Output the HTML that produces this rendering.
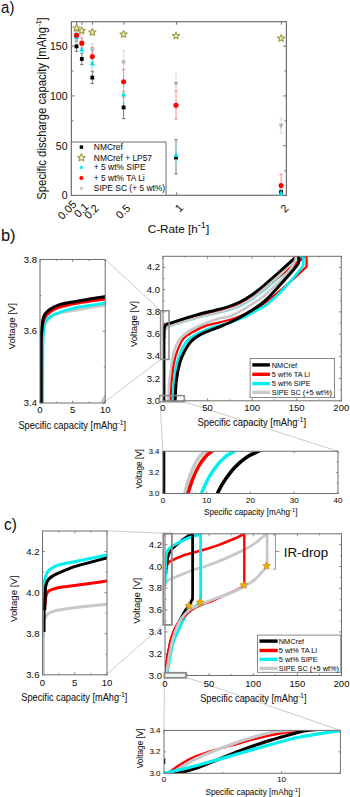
<!DOCTYPE html>
<html><head><meta charset="utf-8"><style>
html,body{margin:0;padding:0;background:#fff;width:350px;height:797px;overflow:hidden}
svg{display:block}
text{stroke:#111;stroke-width:0.06px;paint-order:stroke}
</style></head><body>
<svg width="350" height="797" viewBox="0 0 350 797">
<rect width="350" height="797" fill="#fff"/>
<text x="1.1" y="13.3" font-size="16.4" text-anchor="start" fill="#111" font-family='"Liberation Sans", sans-serif' textLength="13.3" lengthAdjust="spacingAndGlyphs" >a)</text>
<line x1="71.4" y1="195.6" x2="74.60000000000001" y2="195.6" stroke="#6e6e6e" stroke-width="1" />
<line x1="286.4" y1="195.6" x2="283.2" y2="195.6" stroke="#6e6e6e" stroke-width="1" />
<text x="67.5" y="199.4" font-size="10.5" text-anchor="end" fill="#111" font-family='"Liberation Sans", sans-serif' >0</text>
<line x1="71.4" y1="145.765" x2="74.60000000000001" y2="145.765" stroke="#6e6e6e" stroke-width="1" />
<line x1="286.4" y1="145.765" x2="283.2" y2="145.765" stroke="#6e6e6e" stroke-width="1" />
<text x="67.5" y="149.565" font-size="10.5" text-anchor="end" fill="#111" font-family='"Liberation Sans", sans-serif' >50</text>
<line x1="71.4" y1="95.92999999999999" x2="74.60000000000001" y2="95.92999999999999" stroke="#6e6e6e" stroke-width="1" />
<line x1="286.4" y1="95.92999999999999" x2="283.2" y2="95.92999999999999" stroke="#6e6e6e" stroke-width="1" />
<text x="67.5" y="99.72999999999999" font-size="10.5" text-anchor="end" fill="#111" font-family='"Liberation Sans", sans-serif' >100</text>
<line x1="71.4" y1="46.095" x2="74.60000000000001" y2="46.095" stroke="#6e6e6e" stroke-width="1" />
<line x1="286.4" y1="46.095" x2="283.2" y2="46.095" stroke="#6e6e6e" stroke-width="1" />
<text x="67.5" y="49.894999999999996" font-size="10.5" text-anchor="end" fill="#111" font-family='"Liberation Sans", sans-serif' >150</text>
<line x1="71.4" y1="170.6825" x2="73.4" y2="170.6825" stroke="#6e6e6e" stroke-width="1" />
<line x1="286.4" y1="170.6825" x2="284.4" y2="170.6825" stroke="#6e6e6e" stroke-width="1" />
<line x1="71.4" y1="120.8475" x2="73.4" y2="120.8475" stroke="#6e6e6e" stroke-width="1" />
<line x1="286.4" y1="120.8475" x2="284.4" y2="120.8475" stroke="#6e6e6e" stroke-width="1" />
<line x1="71.4" y1="71.01249999999999" x2="73.4" y2="71.01249999999999" stroke="#6e6e6e" stroke-width="1" />
<line x1="286.4" y1="71.01249999999999" x2="284.4" y2="71.01249999999999" stroke="#6e6e6e" stroke-width="1" />
<line x1="76.65" y1="21.7" x2="76.65" y2="24.7" stroke="#6e6e6e" stroke-width="1" />
<line x1="76.65" y1="195.3" x2="76.65" y2="192.3" stroke="#6e6e6e" stroke-width="1" />
<line x1="81.9" y1="21.7" x2="81.9" y2="24.7" stroke="#6e6e6e" stroke-width="1" />
<line x1="81.9" y1="195.3" x2="81.9" y2="192.3" stroke="#6e6e6e" stroke-width="1" />
<line x1="92.4" y1="21.7" x2="92.4" y2="24.7" stroke="#6e6e6e" stroke-width="1" />
<line x1="92.4" y1="195.3" x2="92.4" y2="192.3" stroke="#6e6e6e" stroke-width="1" />
<line x1="123.9" y1="21.7" x2="123.9" y2="24.7" stroke="#6e6e6e" stroke-width="1" />
<line x1="123.9" y1="195.3" x2="123.9" y2="192.3" stroke="#6e6e6e" stroke-width="1" />
<line x1="176.4" y1="21.7" x2="176.4" y2="24.7" stroke="#6e6e6e" stroke-width="1" />
<line x1="176.4" y1="195.3" x2="176.4" y2="192.3" stroke="#6e6e6e" stroke-width="1" />
<line x1="281.4" y1="21.7" x2="281.4" y2="24.7" stroke="#6e6e6e" stroke-width="1" />
<line x1="281.4" y1="195.3" x2="281.4" y2="192.3" stroke="#6e6e6e" stroke-width="1" />
<rect x="71.4" y="21.7" width="214.99999999999997" height="173.60000000000002" fill="none" stroke="#6e6e6e" stroke-width="1.2" />
<text x="77.3" y="205" font-size="11" text-anchor="end" fill="#111" font-family='"Liberation Sans", sans-serif' transform="rotate(-45 77.3 205)">0.05</text>
<text x="89.4" y="207.5" font-size="11" text-anchor="end" fill="#111" font-family='"Liberation Sans", sans-serif' transform="rotate(-45 89.4 207.5)">0.1</text>
<text x="99.5" y="209" font-size="11" text-anchor="end" fill="#111" font-family='"Liberation Sans", sans-serif' transform="rotate(-45 99.5 209)">0.2</text>
<text x="131" y="208.8" font-size="11" text-anchor="end" fill="#111" font-family='"Liberation Sans", sans-serif' transform="rotate(-45 131 208.8)">0.5</text>
<text x="183.8" y="208.5" font-size="11" text-anchor="end" fill="#111" font-family='"Liberation Sans", sans-serif' transform="rotate(-45 183.8 208.5)">1</text>
<text x="289.3" y="209" font-size="11" text-anchor="end" fill="#111" font-family='"Liberation Sans", sans-serif' transform="rotate(-45 289.3 209)">2</text>
<text x="147.7" y="232.7" font-size="11.8" text-anchor="start" fill="#111" font-family='"Liberation Sans", sans-serif' textLength="61.5" lengthAdjust="spacingAndGlyphs" >C-Rate [h<tspan dy="-4.8" font-size="9.2">-1</tspan><tspan dy="4.8">]</tspan></text>
<text transform="translate(46.3 108.55) rotate(-90)" font-size="12.5" text-anchor="middle" fill="#111" font-family='"Liberation Sans", sans-serif' textLength="182.5" lengthAdjust="spacingAndGlyphs">Specific discharge capacity [mAhg<tspan dx="1" dy="-5.5" font-size="7">-1</tspan><tspan dy="5.5">]</tspan></text>
<rect x="71.4" y="142" width="94.6" height="53.30000000000001" fill="#fff" stroke="#6e6e6e" stroke-width="1" />
<text x="93.8" y="149.9" font-size="9.6" text-anchor="start" fill="#111" font-family='"Liberation Sans", sans-serif' textLength="29.0" lengthAdjust="spacingAndGlyphs" >NMCref</text>
<text x="93.8" y="160.5" font-size="9.6" text-anchor="start" fill="#111" font-family='"Liberation Sans", sans-serif' textLength="58.25" lengthAdjust="spacingAndGlyphs" >NMCref + LP57</text>
<text x="93.8" y="169.9" font-size="9.6" text-anchor="start" fill="#111" font-family='"Liberation Sans", sans-serif' textLength="51.71" lengthAdjust="spacingAndGlyphs" >+ 5 wt% SIPE</text>
<text x="93.8" y="180.8" font-size="9.6" text-anchor="start" fill="#111" font-family='"Liberation Sans", sans-serif' textLength="50.93" lengthAdjust="spacingAndGlyphs" >+ 5 wt% TA Li</text>
<text x="93.8" y="191.4" font-size="9.6" text-anchor="start" fill="#111" font-family='"Liberation Sans", sans-serif' textLength="71.35" lengthAdjust="spacingAndGlyphs" >SIPE SC (+ 5 wt%)</text>
<rect x="79.7" y="145.4" width="3.4" height="3.4" fill="#000"/>
<polygon points="81.40,153.80 82.43,156.28 85.11,156.49 83.06,158.24 83.69,160.86 81.40,159.45 79.11,160.86 79.74,158.24 77.69,156.49 80.37,156.28" fill="none" stroke="#9c9c3c" stroke-width="1.1" stroke-linejoin="round"/>
<polygon points="81.4,164.79 79.30000000000001,168.78 83.5,168.78" fill="#00e5ee"/>
<circle cx="81.4" cy="178" r="2.1" fill="#f00"/>
<polygon points="81.4,190.91 79.30000000000001,186.92 83.5,186.92" fill="#c4c4c4"/>
<line x1="76.5" y1="41.4" x2="76.5" y2="51.3" stroke="#555" stroke-width="0.8" />
<line x1="74.8" y1="41.4" x2="78.2" y2="41.4" stroke="#555" stroke-width="0.8" />
<line x1="74.8" y1="51.3" x2="78.2" y2="51.3" stroke="#555" stroke-width="0.8" />
<line x1="76.5" y1="33" x2="76.5" y2="44" stroke="#d0d0d0" stroke-width="0.8" />
<line x1="74.8" y1="33" x2="78.2" y2="33" stroke="#d0d0d0" stroke-width="0.8" />
<line x1="74.8" y1="44" x2="78.2" y2="44" stroke="#d0d0d0" stroke-width="0.8" />
<line x1="76.5" y1="30" x2="76.5" y2="40" stroke="#f07070" stroke-width="0.8" />
<line x1="74.8" y1="30" x2="78.2" y2="30" stroke="#f07070" stroke-width="0.8" />
<line x1="74.8" y1="40" x2="78.2" y2="40" stroke="#f07070" stroke-width="0.8" />
<line x1="76.5" y1="32" x2="76.5" y2="40.6" stroke="#6ee8f0" stroke-width="0.8" />
<line x1="74.8" y1="32" x2="78.2" y2="32" stroke="#6ee8f0" stroke-width="0.8" />
<line x1="74.8" y1="40.6" x2="78.2" y2="40.6" stroke="#6ee8f0" stroke-width="0.8" />
<line x1="81.8" y1="53.4" x2="81.8" y2="64.6" stroke="#555" stroke-width="0.8" />
<line x1="80.1" y1="53.4" x2="83.5" y2="53.4" stroke="#555" stroke-width="0.8" />
<line x1="80.1" y1="64.6" x2="83.5" y2="64.6" stroke="#555" stroke-width="0.8" />
<line x1="81.8" y1="35" x2="81.8" y2="49" stroke="#d0d0d0" stroke-width="0.8" />
<line x1="80.1" y1="35" x2="83.5" y2="35" stroke="#d0d0d0" stroke-width="0.8" />
<line x1="80.1" y1="49" x2="83.5" y2="49" stroke="#d0d0d0" stroke-width="0.8" />
<line x1="81.8" y1="38" x2="81.8" y2="48" stroke="#f07070" stroke-width="0.8" />
<line x1="80.1" y1="38" x2="83.5" y2="38" stroke="#f07070" stroke-width="0.8" />
<line x1="80.1" y1="48" x2="83.5" y2="48" stroke="#f07070" stroke-width="0.8" />
<line x1="81.8" y1="45" x2="81.8" y2="53" stroke="#6ee8f0" stroke-width="0.8" />
<line x1="80.1" y1="45" x2="83.5" y2="45" stroke="#6ee8f0" stroke-width="0.8" />
<line x1="80.1" y1="53" x2="83.5" y2="53" stroke="#6ee8f0" stroke-width="0.8" />
<line x1="92.3" y1="71.1" x2="92.3" y2="83.6" stroke="#555" stroke-width="0.8" />
<line x1="90.6" y1="71.1" x2="94.0" y2="71.1" stroke="#555" stroke-width="0.8" />
<line x1="90.6" y1="83.6" x2="94.0" y2="83.6" stroke="#555" stroke-width="0.8" />
<line x1="92.3" y1="43.6" x2="92.3" y2="53.6" stroke="#d0d0d0" stroke-width="0.8" />
<line x1="90.6" y1="43.6" x2="94.0" y2="43.6" stroke="#d0d0d0" stroke-width="0.8" />
<line x1="90.6" y1="53.6" x2="94.0" y2="53.6" stroke="#d0d0d0" stroke-width="0.8" />
<line x1="92.3" y1="47.4" x2="92.3" y2="62" stroke="#f07070" stroke-width="0.8" />
<line x1="90.6" y1="47.4" x2="94.0" y2="47.4" stroke="#f07070" stroke-width="0.8" />
<line x1="90.6" y1="62" x2="94.0" y2="62" stroke="#f07070" stroke-width="0.8" />
<line x1="92.3" y1="59" x2="92.3" y2="68" stroke="#6ee8f0" stroke-width="0.8" />
<line x1="90.6" y1="59" x2="94.0" y2="59" stroke="#6ee8f0" stroke-width="0.8" />
<line x1="90.6" y1="68" x2="94.0" y2="68" stroke="#6ee8f0" stroke-width="0.8" />
<line x1="123.6" y1="97" x2="123.6" y2="118.6" stroke="#555" stroke-width="0.8" />
<line x1="121.89999999999999" y1="97" x2="125.3" y2="97" stroke="#555" stroke-width="0.8" />
<line x1="121.89999999999999" y1="118.6" x2="125.3" y2="118.6" stroke="#555" stroke-width="0.8" />
<line x1="123.6" y1="50.7" x2="123.6" y2="70" stroke="#d0d0d0" stroke-width="0.8" />
<line x1="121.89999999999999" y1="50.7" x2="125.3" y2="50.7" stroke="#d0d0d0" stroke-width="0.8" />
<line x1="121.89999999999999" y1="70" x2="125.3" y2="70" stroke="#d0d0d0" stroke-width="0.8" />
<line x1="123.6" y1="69.3" x2="123.6" y2="91.4" stroke="#f07070" stroke-width="0.8" />
<line x1="121.89999999999999" y1="69.3" x2="125.3" y2="69.3" stroke="#f07070" stroke-width="0.8" />
<line x1="121.89999999999999" y1="91.4" x2="125.3" y2="91.4" stroke="#f07070" stroke-width="0.8" />
<line x1="123.6" y1="85.7" x2="123.6" y2="102.9" stroke="#6ee8f0" stroke-width="0.8" />
<line x1="121.89999999999999" y1="85.7" x2="125.3" y2="85.7" stroke="#6ee8f0" stroke-width="0.8" />
<line x1="121.89999999999999" y1="102.9" x2="125.3" y2="102.9" stroke="#6ee8f0" stroke-width="0.8" />
<line x1="176.0" y1="139.7" x2="176.0" y2="174" stroke="#555" stroke-width="0.8" />
<line x1="174.3" y1="139.7" x2="177.7" y2="139.7" stroke="#555" stroke-width="0.8" />
<line x1="174.3" y1="174" x2="177.7" y2="174" stroke="#555" stroke-width="0.8" />
<line x1="176.0" y1="73.6" x2="176.0" y2="88" stroke="#d0d0d0" stroke-width="0.8" />
<line x1="174.3" y1="73.6" x2="177.7" y2="73.6" stroke="#d0d0d0" stroke-width="0.8" />
<line x1="174.3" y1="88" x2="177.7" y2="88" stroke="#d0d0d0" stroke-width="0.8" />
<line x1="176.0" y1="90.6" x2="176.0" y2="119.1" stroke="#f07070" stroke-width="0.8" />
<line x1="174.3" y1="90.6" x2="177.7" y2="90.6" stroke="#f07070" stroke-width="0.8" />
<line x1="174.3" y1="119.1" x2="177.7" y2="119.1" stroke="#f07070" stroke-width="0.8" />
<line x1="176.0" y1="147.2" x2="176.0" y2="164" stroke="#6ee8f0" stroke-width="0.8" />
<line x1="174.3" y1="147.2" x2="177.7" y2="147.2" stroke="#6ee8f0" stroke-width="0.8" />
<line x1="174.3" y1="164" x2="177.7" y2="164" stroke="#6ee8f0" stroke-width="0.8" />
<line x1="281.1" y1="190" x2="281.1" y2="195" stroke="#555" stroke-width="0.8" />
<line x1="279.40000000000003" y1="190" x2="282.8" y2="190" stroke="#555" stroke-width="0.8" />
<line x1="279.40000000000003" y1="195" x2="282.8" y2="195" stroke="#555" stroke-width="0.8" />
<line x1="281.1" y1="118.2" x2="281.1" y2="133.2" stroke="#d0d0d0" stroke-width="0.8" />
<line x1="279.40000000000003" y1="118.2" x2="282.8" y2="118.2" stroke="#d0d0d0" stroke-width="0.8" />
<line x1="279.40000000000003" y1="133.2" x2="282.8" y2="133.2" stroke="#d0d0d0" stroke-width="0.8" />
<line x1="281.1" y1="174.3" x2="281.1" y2="192" stroke="#f07070" stroke-width="0.8" />
<line x1="279.40000000000003" y1="174.3" x2="282.8" y2="174.3" stroke="#f07070" stroke-width="0.8" />
<line x1="279.40000000000003" y1="192" x2="282.8" y2="192" stroke="#f07070" stroke-width="0.8" />
<line x1="281.1" y1="190" x2="281.1" y2="195" stroke="#6ee8f0" stroke-width="0.8" />
<line x1="279.40000000000003" y1="190" x2="282.8" y2="190" stroke="#6ee8f0" stroke-width="0.8" />
<line x1="279.40000000000003" y1="195" x2="282.8" y2="195" stroke="#6ee8f0" stroke-width="0.8" />
<polygon points="76.5,41.25 74.0,36.5 79.0,36.5" fill="#b0b0b0"/>
<rect x="74.6" y="44.5" width="3.8" height="3.8" fill="#000"/>
<polygon points="76.5,34.15 74.0,38.9 79.0,38.9" fill="#00e1f0"/>
<circle cx="76.5" cy="35.3" r="2.55" fill="#ff0000"/>
<polygon points="76.50,24.30 77.53,26.68 80.11,26.93 78.16,28.64 78.73,31.17 76.50,29.85 74.27,31.17 74.84,28.64 72.89,26.93 75.47,26.68" fill="#e8e8cc" stroke="#9c9c3c" stroke-width="1.1" stroke-linejoin="round"/>
<polygon points="81.8,45.25 79.3,40.5 84.3,40.5" fill="#b0b0b0"/>
<rect x="79.89999999999999" y="57.1" width="3.8" height="3.8" fill="#000"/>
<polygon points="81.8,46.85 79.3,51.6 84.3,51.6" fill="#00e1f0"/>
<circle cx="81.8" cy="43.3" r="2.55" fill="#ff0000"/>
<polygon points="81.80,26.90 82.83,29.28 85.41,29.53 83.46,31.24 84.03,33.77 81.80,32.45 79.57,33.77 80.14,31.24 78.19,29.53 80.77,29.28" fill="#e8e8cc" stroke="#9c9c3c" stroke-width="1.1" stroke-linejoin="round"/>
<polygon points="92.3,53.25 89.8,48.5 94.8,48.5" fill="#b0b0b0"/>
<rect x="90.39999999999999" y="75.69999999999999" width="3.8" height="3.8" fill="#000"/>
<polygon points="92.3,60.85 89.8,65.6 94.8,65.6" fill="#00e1f0"/>
<circle cx="92.3" cy="56.6" r="2.55" fill="#ff0000"/>
<polygon points="92.30,28.50 93.33,30.88 95.91,31.13 93.96,32.84 94.53,35.37 92.30,34.05 90.07,35.37 90.64,32.84 88.69,31.13 91.27,30.88" fill="#e8e8cc" stroke="#9c9c3c" stroke-width="1.1" stroke-linejoin="round"/>
<polygon points="123.6,65.15 121.1,60.4 126.1,60.4" fill="#b0b0b0"/>
<rect x="121.69999999999999" y="105.5" width="3.8" height="3.8" fill="#000"/>
<polygon points="123.6,91.55 121.1,96.3 126.1,96.3" fill="#00e1f0"/>
<circle cx="123.6" cy="81.7" r="2.55" fill="#ff0000"/>
<polygon points="123.60,30.50 124.63,32.88 127.21,33.13 125.26,34.84 125.83,37.37 123.60,36.05 121.37,37.37 121.94,34.84 119.99,33.13 122.57,32.88" fill="#e8e8cc" stroke="#9c9c3c" stroke-width="1.1" stroke-linejoin="round"/>
<polygon points="176.0,86.55 173.5,81.8 178.5,81.8" fill="#b0b0b0"/>
<rect x="174.1" y="155.6" width="3.8" height="3.8" fill="#000"/>
<polygon points="176.0,152.25 173.5,157.0 178.5,157.0" fill="#00e1f0"/>
<circle cx="176.0" cy="105.3" r="2.55" fill="#ff0000"/>
<polygon points="176.00,32.00 177.03,34.38 179.61,34.63 177.66,36.34 178.23,38.87 176.00,37.55 173.77,38.87 174.34,36.34 172.39,34.63 174.97,34.38" fill="#e8e8cc" stroke="#9c9c3c" stroke-width="1.1" stroke-linejoin="round"/>
<polygon points="281.1,128.45 278.6,123.7 283.6,123.7" fill="#b0b0b0"/>
<rect x="279.20000000000005" y="190.29999999999998" width="3.8" height="3.8" fill="#000"/>
<polygon points="281.1,190.35 278.6,195.1 283.6,195.1" fill="#00e1f0"/>
<circle cx="281.1" cy="185.6" r="2.55" fill="#ff0000"/>
<polygon points="281.10,34.50 282.13,36.88 284.71,37.13 282.76,38.84 283.33,41.37 281.10,40.05 278.87,41.37 279.44,38.84 277.49,37.13 280.07,36.88" fill="#e8e8cc" stroke="#9c9c3c" stroke-width="1.1" stroke-linejoin="round"/>
<text x="0.9" y="240.9" font-size="16.4" text-anchor="start" fill="#111" font-family='"Liberation Sans", sans-serif' textLength="14.6" lengthAdjust="spacingAndGlyphs" >b)</text>
<line x1="105.3" y1="259.3" x2="160.5" y2="310.7" stroke="#bdbdbd" stroke-width="0.8" />
<line x1="105.5" y1="401.5" x2="160.5" y2="359.5" stroke="#bdbdbd" stroke-width="0.8" />
<polygon points="100.5,402.5 104.8,394 105.2,402.5" fill="#c4c4c4"/>
<line x1="160" y1="401.8" x2="162.9" y2="451.3" stroke="#bdbdbd" stroke-width="0.8" />
<line x1="184.3" y1="401.8" x2="338" y2="451.3" stroke="#bdbdbd" stroke-width="0.8" />
<line x1="40" y1="403.0" x2="42.5" y2="403.0" stroke="#6e6e6e" stroke-width="0.8" />
<line x1="105.2" y1="403.0" x2="102.7" y2="403.0" stroke="#6e6e6e" stroke-width="0.8" />
<text x="37" y="406.0" font-size="9.5" text-anchor="end" fill="#111" font-family='"Liberation Sans", sans-serif' >3.4</text>
<line x1="40" y1="331.24999999999994" x2="42.5" y2="331.24999999999994" stroke="#6e6e6e" stroke-width="0.8" />
<line x1="105.2" y1="331.24999999999994" x2="102.7" y2="331.24999999999994" stroke="#6e6e6e" stroke-width="0.8" />
<text x="37" y="334.24999999999994" font-size="9.5" text-anchor="end" fill="#111" font-family='"Liberation Sans", sans-serif' >3.6</text>
<line x1="40" y1="259.5" x2="42.5" y2="259.5" stroke="#6e6e6e" stroke-width="0.8" />
<line x1="105.2" y1="259.5" x2="102.7" y2="259.5" stroke="#6e6e6e" stroke-width="0.8" />
<text x="37" y="262.5" font-size="9.5" text-anchor="end" fill="#111" font-family='"Liberation Sans", sans-serif' >3.8</text>
<line x1="40" y1="367.125" x2="41.5" y2="367.125" stroke="#6e6e6e" stroke-width="0.8" />
<line x1="105.2" y1="367.125" x2="103.7" y2="367.125" stroke="#6e6e6e" stroke-width="0.8" />
<line x1="40" y1="295.3749999999999" x2="41.5" y2="295.3749999999999" stroke="#6e6e6e" stroke-width="0.8" />
<line x1="105.2" y1="295.3749999999999" x2="103.7" y2="295.3749999999999" stroke="#6e6e6e" stroke-width="0.8" />
<line x1="40.0" y1="403" x2="40.0" y2="400.5" stroke="#6e6e6e" stroke-width="0.8" />
<line x1="40.0" y1="259.5" x2="40.0" y2="262.0" stroke="#6e6e6e" stroke-width="0.8" />
<text x="40.0" y="413" font-size="9.5" text-anchor="middle" fill="#111" font-family='"Liberation Sans", sans-serif' >0</text>
<line x1="72.6" y1="403" x2="72.6" y2="400.5" stroke="#6e6e6e" stroke-width="0.8" />
<line x1="72.6" y1="259.5" x2="72.6" y2="262.0" stroke="#6e6e6e" stroke-width="0.8" />
<text x="72.6" y="413" font-size="9.5" text-anchor="middle" fill="#111" font-family='"Liberation Sans", sans-serif' >5</text>
<line x1="105.19999999999999" y1="403" x2="105.19999999999999" y2="400.5" stroke="#6e6e6e" stroke-width="0.8" />
<line x1="105.19999999999999" y1="259.5" x2="105.19999999999999" y2="262.0" stroke="#6e6e6e" stroke-width="0.8" />
<text x="105.19999999999999" y="413" font-size="9.5" text-anchor="middle" fill="#111" font-family='"Liberation Sans", sans-serif' >10</text>
<line x1="56.3" y1="403" x2="56.3" y2="401.5" stroke="#6e6e6e" stroke-width="0.8" />
<line x1="56.3" y1="259.5" x2="56.3" y2="261.0" stroke="#6e6e6e" stroke-width="0.8" />
<line x1="88.9" y1="403" x2="88.9" y2="401.5" stroke="#6e6e6e" stroke-width="0.8" />
<line x1="88.9" y1="259.5" x2="88.9" y2="261.0" stroke="#6e6e6e" stroke-width="0.8" />
<text transform="translate(14.7 326.25) rotate(-90)" font-size="9.6" text-anchor="middle" fill="#111" font-family='"Liberation Sans", sans-serif' textLength="46.3" lengthAdjust="spacingAndGlyphs">Voltage [V]</text>
<text x="18.4" y="428.7" font-size="10.1" fill="#111" font-family='"Liberation Sans", sans-serif' textLength="107.6" lengthAdjust="spacingAndGlyphs">Specific capacity [mAhg<tspan dy="-3.84" font-size="7.07">-1</tspan><tspan dy="3.84">]</tspan></text>
<clipPath id="cbl"><rect x="40" y="259.5" width="65.2" height="143.5"/></clipPath>
<g clip-path="url(#cbl)">
<path d="M42.20,405.00 C42.23,395.00 42.23,357.33 42.40,345.00 C42.57,332.67 42.88,334.50 43.20,331.00 C43.52,327.50 43.78,325.88 44.30,324.00 C44.82,322.12 45.35,320.95 46.30,319.70 C47.25,318.45 48.05,317.53 50.00,316.50 C51.95,315.47 53.67,314.58 58.00,313.50 C62.33,312.42 68.08,311.42 76.00,310.00 C83.92,308.58 100.58,305.83 105.50,305.00" fill="none" stroke="#c8c8c8" stroke-width="2.9" stroke-linejoin="round" />
<path d="M42.60,405.00 C42.65,395.00 42.70,357.33 42.90,345.00 C43.10,332.67 43.52,334.45 43.80,331.00 C44.08,327.55 44.15,325.97 44.60,324.30 C45.05,322.63 45.83,321.95 46.50,321.00 C47.17,320.05 47.12,319.77 48.60,318.60 C50.08,317.43 50.83,315.82 55.40,314.00 C59.97,312.18 67.65,309.53 76.00,307.70 C84.35,305.87 100.58,303.78 105.50,303.00" fill="none" stroke="#00f0f0" stroke-width="2.9" stroke-linejoin="round" />
<path d="M41.00,405.00 C41.00,395.00 40.90,357.00 41.00,345.00 C41.10,333.00 41.35,336.17 41.60,333.00 C41.85,329.83 42.17,328.08 42.50,326.00 C42.83,323.92 43.05,322.17 43.60,320.50 C44.15,318.83 44.68,317.45 45.80,316.00 C46.92,314.55 48.10,313.25 50.30,311.80 C52.50,310.35 54.38,308.77 59.00,307.30 C63.62,305.83 70.25,304.38 78.00,303.00 C85.75,301.62 100.92,299.67 105.50,299.00" fill="none" stroke="#ff0000" stroke-width="2.9" stroke-linejoin="round" />
<path d="M41.10,405.00 C41.10,395.00 41.02,357.17 41.10,345.00 C41.18,332.83 41.40,335.45 41.60,332.00 C41.80,328.55 42.05,326.53 42.30,324.30 C42.55,322.07 42.63,320.32 43.10,318.60 C43.57,316.88 44.00,315.53 45.10,314.00 C46.20,312.47 47.40,310.92 49.70,309.40 C52.00,307.88 54.52,306.23 58.90,304.90 C63.28,303.57 68.23,302.80 76.00,301.40 C83.77,300.00 100.58,297.32 105.50,296.50" fill="none" stroke="#000" stroke-width="3" stroke-linejoin="round" />
</g>
<rect x="40" y="259.5" width="65.2" height="143.5" fill="none" stroke="#6e6e6e" stroke-width="1" />
<line x1="163" y1="400.79499999999996" x2="165.5" y2="400.79499999999996" stroke="#6e6e6e" stroke-width="0.8" />
<line x1="341.3" y1="400.79499999999996" x2="338.8" y2="400.79499999999996" stroke="#6e6e6e" stroke-width="0.8" />
<text x="160" y="403.79499999999996" font-size="9.5" text-anchor="end" fill="#111" font-family='"Liberation Sans", sans-serif' >3.0</text>
<line x1="163" y1="378.565" x2="165.5" y2="378.565" stroke="#6e6e6e" stroke-width="0.8" />
<line x1="341.3" y1="378.565" x2="338.8" y2="378.565" stroke="#6e6e6e" stroke-width="0.8" />
<text x="160" y="381.565" font-size="9.5" text-anchor="end" fill="#111" font-family='"Liberation Sans", sans-serif' >3.2</text>
<line x1="163" y1="356.33500000000004" x2="165.5" y2="356.33500000000004" stroke="#6e6e6e" stroke-width="0.8" />
<line x1="341.3" y1="356.33500000000004" x2="338.8" y2="356.33500000000004" stroke="#6e6e6e" stroke-width="0.8" />
<text x="160" y="359.33500000000004" font-size="9.5" text-anchor="end" fill="#111" font-family='"Liberation Sans", sans-serif' >3.4</text>
<line x1="163" y1="334.105" x2="165.5" y2="334.105" stroke="#6e6e6e" stroke-width="0.8" />
<line x1="341.3" y1="334.105" x2="338.8" y2="334.105" stroke="#6e6e6e" stroke-width="0.8" />
<text x="160" y="337.105" font-size="9.5" text-anchor="end" fill="#111" font-family='"Liberation Sans", sans-serif' >3.6</text>
<line x1="163" y1="311.875" x2="165.5" y2="311.875" stroke="#6e6e6e" stroke-width="0.8" />
<line x1="341.3" y1="311.875" x2="338.8" y2="311.875" stroke="#6e6e6e" stroke-width="0.8" />
<text x="160" y="314.875" font-size="9.5" text-anchor="end" fill="#111" font-family='"Liberation Sans", sans-serif' >3.8</text>
<line x1="163" y1="289.645" x2="165.5" y2="289.645" stroke="#6e6e6e" stroke-width="0.8" />
<line x1="341.3" y1="289.645" x2="338.8" y2="289.645" stroke="#6e6e6e" stroke-width="0.8" />
<text x="160" y="292.645" font-size="9.5" text-anchor="end" fill="#111" font-family='"Liberation Sans", sans-serif' >4.0</text>
<line x1="163" y1="267.41499999999996" x2="165.5" y2="267.41499999999996" stroke="#6e6e6e" stroke-width="0.8" />
<line x1="341.3" y1="267.41499999999996" x2="338.8" y2="267.41499999999996" stroke="#6e6e6e" stroke-width="0.8" />
<text x="160" y="270.41499999999996" font-size="9.5" text-anchor="end" fill="#111" font-family='"Liberation Sans", sans-serif' >4.2</text>
<line x1="163" y1="389.67999999999995" x2="164.5" y2="389.67999999999995" stroke="#6e6e6e" stroke-width="0.8" />
<line x1="341.3" y1="389.67999999999995" x2="339.8" y2="389.67999999999995" stroke="#6e6e6e" stroke-width="0.8" />
<line x1="163" y1="367.45000000000005" x2="164.5" y2="367.45000000000005" stroke="#6e6e6e" stroke-width="0.8" />
<line x1="341.3" y1="367.45000000000005" x2="339.8" y2="367.45000000000005" stroke="#6e6e6e" stroke-width="0.8" />
<line x1="163" y1="345.22" x2="164.5" y2="345.22" stroke="#6e6e6e" stroke-width="0.8" />
<line x1="341.3" y1="345.22" x2="339.8" y2="345.22" stroke="#6e6e6e" stroke-width="0.8" />
<line x1="163" y1="322.99" x2="164.5" y2="322.99" stroke="#6e6e6e" stroke-width="0.8" />
<line x1="341.3" y1="322.99" x2="339.8" y2="322.99" stroke="#6e6e6e" stroke-width="0.8" />
<line x1="163" y1="300.76" x2="164.5" y2="300.76" stroke="#6e6e6e" stroke-width="0.8" />
<line x1="341.3" y1="300.76" x2="339.8" y2="300.76" stroke="#6e6e6e" stroke-width="0.8" />
<line x1="163" y1="278.53000000000003" x2="164.5" y2="278.53000000000003" stroke="#6e6e6e" stroke-width="0.8" />
<line x1="341.3" y1="278.53000000000003" x2="339.8" y2="278.53000000000003" stroke="#6e6e6e" stroke-width="0.8" />
<line x1="163.0" y1="400.8" x2="163.0" y2="398.3" stroke="#6e6e6e" stroke-width="0.8" />
<line x1="163.0" y1="256.3" x2="163.0" y2="258.8" stroke="#6e6e6e" stroke-width="0.8" />
<text x="163.0" y="411" font-size="9.5" text-anchor="middle" fill="#111" font-family='"Liberation Sans", sans-serif' >0</text>
<line x1="207.575" y1="400.8" x2="207.575" y2="398.3" stroke="#6e6e6e" stroke-width="0.8" />
<line x1="207.575" y1="256.3" x2="207.575" y2="258.8" stroke="#6e6e6e" stroke-width="0.8" />
<text x="207.575" y="411" font-size="9.5" text-anchor="middle" fill="#111" font-family='"Liberation Sans", sans-serif' >50</text>
<line x1="252.14999999999998" y1="400.8" x2="252.14999999999998" y2="398.3" stroke="#6e6e6e" stroke-width="0.8" />
<line x1="252.14999999999998" y1="256.3" x2="252.14999999999998" y2="258.8" stroke="#6e6e6e" stroke-width="0.8" />
<text x="252.14999999999998" y="411" font-size="9.5" text-anchor="middle" fill="#111" font-family='"Liberation Sans", sans-serif' >100</text>
<line x1="296.725" y1="400.8" x2="296.725" y2="398.3" stroke="#6e6e6e" stroke-width="0.8" />
<line x1="296.725" y1="256.3" x2="296.725" y2="258.8" stroke="#6e6e6e" stroke-width="0.8" />
<text x="296.725" y="411" font-size="9.5" text-anchor="middle" fill="#111" font-family='"Liberation Sans", sans-serif' >150</text>
<line x1="341.29999999999995" y1="400.8" x2="341.29999999999995" y2="398.3" stroke="#6e6e6e" stroke-width="0.8" />
<line x1="341.29999999999995" y1="256.3" x2="341.29999999999995" y2="258.8" stroke="#6e6e6e" stroke-width="0.8" />
<text x="341.29999999999995" y="411" font-size="9.5" text-anchor="middle" fill="#111" font-family='"Liberation Sans", sans-serif' >200</text>
<line x1="185.2875" y1="400.8" x2="185.2875" y2="399.3" stroke="#6e6e6e" stroke-width="0.8" />
<line x1="185.2875" y1="256.3" x2="185.2875" y2="257.8" stroke="#6e6e6e" stroke-width="0.8" />
<line x1="229.8625" y1="400.8" x2="229.8625" y2="399.3" stroke="#6e6e6e" stroke-width="0.8" />
<line x1="229.8625" y1="256.3" x2="229.8625" y2="257.8" stroke="#6e6e6e" stroke-width="0.8" />
<line x1="274.4375" y1="400.8" x2="274.4375" y2="399.3" stroke="#6e6e6e" stroke-width="0.8" />
<line x1="274.4375" y1="256.3" x2="274.4375" y2="257.8" stroke="#6e6e6e" stroke-width="0.8" />
<line x1="319.0125" y1="400.8" x2="319.0125" y2="399.3" stroke="#6e6e6e" stroke-width="0.8" />
<line x1="319.0125" y1="256.3" x2="319.0125" y2="257.8" stroke="#6e6e6e" stroke-width="0.8" />
<text transform="translate(137.4 324) rotate(-90)" font-size="9.6" text-anchor="middle" fill="#111" font-family='"Liberation Sans", sans-serif' textLength="46" lengthAdjust="spacingAndGlyphs">Voltage [V]</text>
<text x="197.5" y="425.7" font-size="10.1" fill="#111" font-family='"Liberation Sans", sans-serif' textLength="108.5" lengthAdjust="spacingAndGlyphs">Specific capacity [mAhg<tspan dy="-3.84" font-size="7.07">-1</tspan><tspan dy="3.84">]</tspan></text>
<clipPath id="cb"><rect x="163" y="256.3" width="178.3" height="144.5"/></clipPath>
<g clip-path="url(#cb)">
<path d="M164.50,402.00 C164.50,390.50 164.38,345.08 164.50,333.00 C164.62,320.92 164.75,330.47 165.20,329.50 C165.65,328.53 166.48,327.78 167.20,327.20 C167.92,326.62 168.55,326.37 169.50,326.00 C170.45,325.63 168.53,326.35 172.90,325.00 C177.27,323.65 188.08,320.00 195.70,317.90 C203.32,315.80 212.88,313.80 218.60,312.40 C224.32,311.00 226.43,310.60 230.00,309.50 C233.57,308.40 236.50,307.47 240.00,305.80 C243.50,304.13 247.43,301.80 251.00,299.50 C254.57,297.20 256.42,296.00 261.40,292.00 C266.38,288.00 275.13,280.33 280.90,275.50 C286.67,270.67 292.82,265.67 296.00,263.00 C299.18,260.33 298.67,260.83 300.00,259.50 C301.33,258.17 303.33,255.75 304.00,255.00" fill="none" stroke="#00f0f0" stroke-width="2.6" stroke-linejoin="round" />
<path d="M164.50,402.00 C164.50,390.17 164.42,343.37 164.50,331.00 C164.58,318.63 164.67,328.70 165.00,327.80 C165.33,326.90 165.75,326.17 166.50,325.60 C167.25,325.03 168.43,324.75 169.50,324.40 C170.57,324.05 168.53,324.82 172.90,323.50 C177.27,322.18 188.08,318.58 195.70,316.50 C203.32,314.42 212.88,312.42 218.60,311.00 C224.32,309.58 226.43,309.08 230.00,308.00 C233.57,306.92 236.50,306.12 240.00,304.50 C243.50,302.88 247.43,300.58 251.00,298.30 C254.57,296.02 256.42,294.68 261.40,290.80 C266.38,286.92 275.13,279.55 280.90,275.00 C286.67,270.45 292.48,266.17 296.00,263.50 C299.52,260.83 300.25,260.42 302.00,259.00 C303.75,257.58 305.75,255.67 306.50,255.00" fill="none" stroke="#ff0000" stroke-width="2.4" stroke-linejoin="round" />
<path d="M164.50,402.00 C164.50,390.50 164.38,345.08 164.50,333.00 C164.62,320.92 164.75,330.47 165.20,329.50 C165.65,328.53 166.48,327.78 167.20,327.20 C167.92,326.62 168.55,326.37 169.50,326.00 C170.45,325.63 168.53,326.35 172.90,325.00 C177.27,323.65 188.08,320.00 195.70,317.90 C203.32,315.80 212.88,313.83 218.60,312.40 C224.32,310.97 226.43,310.48 230.00,309.30 C233.57,308.12 236.50,307.02 240.00,305.30 C243.50,303.58 247.43,301.33 251.00,299.00 C254.57,296.67 256.42,295.47 261.40,291.30 C266.38,287.13 275.63,279.05 280.90,274.00 C286.17,268.95 290.48,264.17 293.00,261.00 C295.52,257.83 295.50,256.00 296.00,255.00" fill="none" stroke="#c8c8c8" stroke-width="2.6" stroke-linejoin="round" />
<path d="M164.00,402.00 L164.00,336.00" fill="none" stroke="#000" stroke-width="2.3" stroke-linejoin="round" />
<path d="M164.00,338.00 C164.02,336.83 164.00,332.83 164.10,331.00 C164.20,329.17 164.28,328.07 164.60,327.00 C164.92,325.93 165.27,325.20 166.00,324.60 C166.73,324.00 167.85,323.78 169.00,323.40 C170.15,323.02 168.45,323.68 172.90,322.30 C177.35,320.92 188.08,317.25 195.70,315.10 C203.32,312.95 212.88,310.92 218.60,309.40 C224.32,307.88 226.43,307.23 230.00,306.00 C233.57,304.77 236.50,303.75 240.00,302.00 C243.50,300.25 247.43,297.92 251.00,295.50 C254.57,293.08 256.42,291.67 261.40,287.50 C266.38,283.33 275.23,275.52 280.90,270.50 C286.57,265.48 292.55,259.98 295.40,257.40 C298.25,254.82 297.57,255.40 298.00,255.00" fill="none" stroke="#000" stroke-width="2.9" stroke-linejoin="round" />
<path d="M296.00,255.00 C295.83,256.00 296.17,258.33 295.00,261.00 C293.83,263.67 291.83,267.33 289.00,271.00 C286.17,274.67 282.50,278.58 278.00,283.00 C273.50,287.42 267.50,293.25 262.00,297.50 C256.50,301.75 250.33,305.37 245.00,308.50 C239.67,311.63 234.40,314.62 230.00,316.30 C225.60,317.98 223.55,317.07 218.60,318.60 C213.65,320.13 205.63,323.18 200.30,325.50 C194.97,327.82 190.22,329.95 186.60,332.50 C182.98,335.05 180.70,337.60 178.60,340.80 C176.50,344.00 175.15,347.98 174.00,351.70 C172.85,355.42 172.47,358.15 171.70,363.10 C170.93,368.05 169.97,374.92 169.40,381.40 C168.83,387.88 168.48,398.57 168.30,402.00" fill="none" stroke="#c8c8c8" stroke-width="2.6" stroke-linejoin="round" />
<path d="M306.50,255.00 C306.50,256.67 306.87,262.70 306.50,265.00 C306.13,267.30 308.38,264.80 304.30,268.80 C300.22,272.80 288.72,283.22 282.00,289.00 C275.28,294.78 270.17,299.33 264.00,303.50 C257.83,307.67 250.67,311.28 245.00,314.00 C239.33,316.72 236.32,317.90 230.00,319.80 C223.68,321.70 213.38,323.32 207.10,325.40 C200.82,327.48 196.30,330.02 192.30,332.30 C188.30,334.58 185.58,336.05 183.10,339.10 C180.62,342.15 178.92,346.60 177.40,350.60 C175.88,354.60 174.95,357.97 174.00,363.10 C173.05,368.23 172.27,374.92 171.70,381.40 C171.13,387.88 170.78,398.57 170.60,402.00" fill="none" stroke="#ff0000" stroke-width="2.2" stroke-linejoin="round" />
<path d="M303.30,255.00 C303.30,256.50 303.68,261.75 303.30,264.00 C302.92,266.25 304.22,264.42 301.00,268.50 C297.78,272.58 289.83,282.42 284.00,288.50 C278.17,294.58 272.50,300.33 266.00,305.00 C259.50,309.67 251.00,313.58 245.00,316.50 C239.00,319.42 235.55,320.63 230.00,322.50 C224.45,324.37 217.42,325.68 211.70,327.70 C205.98,329.72 199.88,332.32 195.70,334.60 C191.52,336.88 189.07,338.55 186.60,341.40 C184.13,344.25 182.50,348.08 180.90,351.70 C179.30,355.32 178.15,358.15 177.00,363.10 C175.85,368.05 174.68,374.92 174.00,381.40 C173.32,387.88 173.08,398.57 172.90,402.00" fill="none" stroke="#00f0f0" stroke-width="2.6" stroke-linejoin="round" />
<path d="M298.70,255.00 C298.70,256.08 299.07,259.67 298.70,261.50 C298.33,263.33 299.62,262.08 296.50,266.00 C293.38,269.92 285.48,279.00 280.00,285.00 C274.52,291.00 269.43,297.08 263.60,302.00 C257.77,306.92 250.60,311.08 245.00,314.50 C239.40,317.92 234.78,320.25 230.00,322.50 C225.22,324.75 221.25,325.98 216.30,328.00 C211.35,330.02 204.50,332.37 200.30,334.60 C196.10,336.83 193.77,338.55 191.10,341.40 C188.43,344.25 186.20,348.08 184.30,351.70 C182.40,355.32 181.03,358.15 179.70,363.10 C178.37,368.05 177.07,374.92 176.30,381.40 C175.53,387.88 175.30,398.57 175.10,402.00" fill="none" stroke="#000" stroke-width="3" stroke-linejoin="round" />
</g>
<rect x="163" y="256.3" width="178.3" height="144.5" fill="none" stroke="#6e6e6e" stroke-width="1" />
<rect x="160.6" y="310.7" width="8.4" height="48.8" fill="none" stroke="#8a8a8a" stroke-width="1.5" />
<rect x="159.6" y="395.6" width="24.6" height="6.2" fill="none" stroke="#8a8a8a" stroke-width="1.5" />
<rect x="250.1" y="358.6" width="84.50000000000003" height="39.0" fill="#fff" stroke="#6e6e6e" stroke-width="0.8" />
<line x1="252.3" y1="364.9" x2="269.9" y2="364.9" stroke="#000" stroke-width="3.4" />
<text x="271.8" y="367.7" font-size="7.9" text-anchor="start" fill="#111" font-family='"Liberation Sans", sans-serif' textLength="25.3" lengthAdjust="spacingAndGlyphs" >NMCref</text>
<line x1="252.3" y1="374.3" x2="269.9" y2="374.3" stroke="#ff0000" stroke-width="3.4" />
<text x="271.8" y="377.1" font-size="7.9" text-anchor="start" fill="#111" font-family='"Liberation Sans", sans-serif' textLength="38.11" lengthAdjust="spacingAndGlyphs" >5 wt% TA Li</text>
<line x1="252.3" y1="383.6" x2="269.9" y2="383.6" stroke="#00f0f0" stroke-width="3.4" />
<text x="271.8" y="386.40000000000003" font-size="7.9" text-anchor="start" fill="#111" font-family='"Liberation Sans", sans-serif' textLength="38.79" lengthAdjust="spacingAndGlyphs" >5 wt% SIPE</text>
<line x1="252.3" y1="392.3" x2="269.9" y2="392.3" stroke="#c8c8c8" stroke-width="3.4" />
<text x="271.8" y="395.1" font-size="7.9" text-anchor="start" fill="#111" font-family='"Liberation Sans", sans-serif' textLength="60.22" lengthAdjust="spacingAndGlyphs" >SIPE SC (+5 wt%)</text>
<line x1="162.9" y1="493.5" x2="164.9" y2="493.5" stroke="#6e6e6e" stroke-width="0.8" />
<line x1="338" y1="493.5" x2="336" y2="493.5" stroke="#6e6e6e" stroke-width="0.8" />
<text x="159.5" y="496.1" font-size="8" text-anchor="end" fill="#111" font-family='"Liberation Sans", sans-serif' >3.0</text>
<line x1="162.9" y1="472.4" x2="164.9" y2="472.4" stroke="#6e6e6e" stroke-width="0.8" />
<line x1="338" y1="472.4" x2="336" y2="472.4" stroke="#6e6e6e" stroke-width="0.8" />
<text x="159.5" y="475.0" font-size="8" text-anchor="end" fill="#111" font-family='"Liberation Sans", sans-serif' >3.2</text>
<line x1="162.9" y1="451.3" x2="164.9" y2="451.3" stroke="#6e6e6e" stroke-width="0.8" />
<line x1="338" y1="451.3" x2="336" y2="451.3" stroke="#6e6e6e" stroke-width="0.8" />
<text x="159.5" y="453.90000000000003" font-size="8" text-anchor="end" fill="#111" font-family='"Liberation Sans", sans-serif' >3.4</text>
<line x1="338" y1="482.95" x2="336.7" y2="482.95" stroke="#6e6e6e" stroke-width="0.8" />
<line x1="338" y1="461.85" x2="336.7" y2="461.85" stroke="#6e6e6e" stroke-width="0.8" />
<line x1="162.9" y1="493.5" x2="162.9" y2="491.5" stroke="#6e6e6e" stroke-width="0.8" />
<line x1="162.9" y1="451.3" x2="162.9" y2="453.3" stroke="#6e6e6e" stroke-width="0.8" />
<text x="162.9" y="502.8" font-size="8" text-anchor="middle" fill="#111" font-family='"Liberation Sans", sans-serif' >0</text>
<line x1="206.675" y1="493.5" x2="206.675" y2="491.5" stroke="#6e6e6e" stroke-width="0.8" />
<line x1="206.675" y1="451.3" x2="206.675" y2="453.3" stroke="#6e6e6e" stroke-width="0.8" />
<text x="206.675" y="502.8" font-size="8" text-anchor="middle" fill="#111" font-family='"Liberation Sans", sans-serif' >10</text>
<line x1="250.45" y1="493.5" x2="250.45" y2="491.5" stroke="#6e6e6e" stroke-width="0.8" />
<line x1="250.45" y1="451.3" x2="250.45" y2="453.3" stroke="#6e6e6e" stroke-width="0.8" />
<text x="250.45" y="502.8" font-size="8" text-anchor="middle" fill="#111" font-family='"Liberation Sans", sans-serif' >20</text>
<line x1="294.225" y1="493.5" x2="294.225" y2="491.5" stroke="#6e6e6e" stroke-width="0.8" />
<line x1="294.225" y1="451.3" x2="294.225" y2="453.3" stroke="#6e6e6e" stroke-width="0.8" />
<text x="294.225" y="502.8" font-size="8" text-anchor="middle" fill="#111" font-family='"Liberation Sans", sans-serif' >30</text>
<line x1="338.0" y1="493.5" x2="338.0" y2="491.5" stroke="#6e6e6e" stroke-width="0.8" />
<line x1="338.0" y1="451.3" x2="338.0" y2="453.3" stroke="#6e6e6e" stroke-width="0.8" />
<text x="338.0" y="502.8" font-size="8" text-anchor="middle" fill="#111" font-family='"Liberation Sans", sans-serif' >40</text>
<text transform="translate(141.9 468.85) rotate(-90)" font-size="8.6" text-anchor="middle" fill="#111" font-family='"Liberation Sans", sans-serif' textLength="39.5" lengthAdjust="spacingAndGlyphs">Voltage [V]</text>
<text x="204" y="515" font-size="8.5" fill="#111" font-family='"Liberation Sans", sans-serif' textLength="93.4" lengthAdjust="spacingAndGlyphs">Specific capacity [mAhg<tspan dy="-3.23" font-size="5.95">-1</tspan><tspan dy="3.23">]</tspan></text>
<clipPath id="cl"><rect x="162.9" y="451.3" width="175.1" height="42.19999999999999"/></clipPath>
<g clip-path="url(#cl)">
<path d="M163.70,449.30 L163.70,495.50" fill="none" stroke="#000" stroke-width="3.2" stroke-linejoin="round" />
<path d="M184.50,495.50 C184.55,495.17 184.21,495.83 184.80,493.50 C185.39,491.17 186.62,485.83 188.03,481.50 C189.45,477.17 191.40,471.58 193.28,467.50 C195.17,463.42 197.39,459.70 199.34,457.00 C201.30,454.30 203.06,452.92 205.00,451.30 C206.94,449.68 210.00,447.97 211.00,447.30" fill="none" stroke="#c8c8c8" stroke-width="3.5" stroke-linejoin="round" />
<path d="M187.70,495.50 C187.75,495.17 187.32,495.83 188.00,493.50 C188.68,491.17 190.14,485.83 191.81,481.50 C193.47,477.17 195.77,471.58 198.00,467.50 C200.22,463.42 202.84,459.70 205.14,457.00 C207.44,454.30 209.69,452.92 211.80,451.30 C213.91,449.68 216.80,447.97 217.80,447.30" fill="none" stroke="#ff0000" stroke-width="3.5" stroke-linejoin="round" />
<path d="M201.20,495.50 C201.25,495.17 200.58,495.83 201.50,493.50 C202.42,491.17 204.45,485.83 206.75,481.50 C209.04,477.17 212.21,471.58 215.28,467.50 C218.34,463.42 221.95,459.70 225.12,457.00 C228.29,454.30 231.77,452.92 234.30,451.30 C236.83,449.68 239.30,447.97 240.30,447.30" fill="none" stroke="#00f0f0" stroke-width="3.5" stroke-linejoin="round" />
<path d="M217.10,495.50 C217.15,495.17 216.25,495.83 217.40,493.50 C218.55,491.17 221.10,485.83 223.98,481.50 C226.85,477.17 230.83,471.58 234.66,467.50 C238.50,463.42 243.02,459.70 246.99,457.00 C250.96,454.30 255.58,452.92 258.50,451.30 C261.42,449.68 263.50,447.97 264.50,447.30" fill="none" stroke="#000" stroke-width="3.5" stroke-linejoin="round" />
</g>
<rect x="162.9" y="451.3" width="175.1" height="42.19999999999999" fill="none" stroke="#6e6e6e" stroke-width="1" />
<text x="4.0" y="530.4" font-size="16.4" text-anchor="start" fill="#111" font-family='"Liberation Sans", sans-serif' textLength="12.8" lengthAdjust="spacingAndGlyphs" >c)</text>
<line x1="107.5" y1="530.8" x2="162.9" y2="533.3" stroke="#bdbdbd" stroke-width="0.8" />
<line x1="107.5" y1="673.8" x2="162.9" y2="624.7" stroke="#bdbdbd" stroke-width="0.8" />
<line x1="164.4" y1="677.3" x2="164" y2="730.4" stroke="#bdbdbd" stroke-width="0.8" />
<line x1="186.1" y1="677.3" x2="340.4" y2="730.4" stroke="#bdbdbd" stroke-width="0.8" />
<line x1="42.5" y1="674.8" x2="45.0" y2="674.8" stroke="#6e6e6e" stroke-width="0.8" />
<line x1="107" y1="674.8" x2="104.5" y2="674.8" stroke="#6e6e6e" stroke-width="0.8" />
<text x="39.5" y="677.8" font-size="9.5" text-anchor="end" fill="#111" font-family='"Liberation Sans", sans-serif' >3.6</text>
<line x1="42.5" y1="633.7142857142858" x2="45.0" y2="633.7142857142858" stroke="#6e6e6e" stroke-width="0.8" />
<line x1="107" y1="633.7142857142858" x2="104.5" y2="633.7142857142858" stroke="#6e6e6e" stroke-width="0.8" />
<text x="39.5" y="636.7142857142858" font-size="9.5" text-anchor="end" fill="#111" font-family='"Liberation Sans", sans-serif' >3.8</text>
<line x1="42.5" y1="592.6285714285714" x2="45.0" y2="592.6285714285714" stroke="#6e6e6e" stroke-width="0.8" />
<line x1="107" y1="592.6285714285714" x2="104.5" y2="592.6285714285714" stroke="#6e6e6e" stroke-width="0.8" />
<text x="39.5" y="595.6285714285714" font-size="9.5" text-anchor="end" fill="#111" font-family='"Liberation Sans", sans-serif' >4.0</text>
<line x1="42.5" y1="551.5428571428571" x2="45.0" y2="551.5428571428571" stroke="#6e6e6e" stroke-width="0.8" />
<line x1="107" y1="551.5428571428571" x2="104.5" y2="551.5428571428571" stroke="#6e6e6e" stroke-width="0.8" />
<text x="39.5" y="554.5428571428571" font-size="9.5" text-anchor="end" fill="#111" font-family='"Liberation Sans", sans-serif' >4.2</text>
<line x1="42.5" y1="654.2571428571428" x2="44.0" y2="654.2571428571428" stroke="#6e6e6e" stroke-width="0.8" />
<line x1="107" y1="654.2571428571428" x2="105.5" y2="654.2571428571428" stroke="#6e6e6e" stroke-width="0.8" />
<line x1="42.5" y1="613.1714285714286" x2="44.0" y2="613.1714285714286" stroke="#6e6e6e" stroke-width="0.8" />
<line x1="107" y1="613.1714285714286" x2="105.5" y2="613.1714285714286" stroke="#6e6e6e" stroke-width="0.8" />
<line x1="42.5" y1="572.0857142857144" x2="44.0" y2="572.0857142857144" stroke="#6e6e6e" stroke-width="0.8" />
<line x1="107" y1="572.0857142857144" x2="105.5" y2="572.0857142857144" stroke="#6e6e6e" stroke-width="0.8" />
<line x1="42.5" y1="674.8" x2="42.5" y2="672.3" stroke="#6e6e6e" stroke-width="0.8" />
<line x1="42.5" y1="531" x2="42.5" y2="533.5" stroke="#6e6e6e" stroke-width="0.8" />
<text x="42.5" y="685.5" font-size="9.5" text-anchor="middle" fill="#111" font-family='"Liberation Sans", sans-serif' >0</text>
<line x1="74.75" y1="674.8" x2="74.75" y2="672.3" stroke="#6e6e6e" stroke-width="0.8" />
<line x1="74.75" y1="531" x2="74.75" y2="533.5" stroke="#6e6e6e" stroke-width="0.8" />
<text x="74.75" y="685.5" font-size="9.5" text-anchor="middle" fill="#111" font-family='"Liberation Sans", sans-serif' >5</text>
<line x1="107.0" y1="674.8" x2="107.0" y2="672.3" stroke="#6e6e6e" stroke-width="0.8" />
<line x1="107.0" y1="531" x2="107.0" y2="533.5" stroke="#6e6e6e" stroke-width="0.8" />
<text x="107.0" y="685.5" font-size="9.5" text-anchor="middle" fill="#111" font-family='"Liberation Sans", sans-serif' >10</text>
<line x1="58.625" y1="674.8" x2="58.625" y2="673.3" stroke="#6e6e6e" stroke-width="0.8" />
<line x1="58.625" y1="531" x2="58.625" y2="532.5" stroke="#6e6e6e" stroke-width="0.8" />
<line x1="90.875" y1="674.8" x2="90.875" y2="673.3" stroke="#6e6e6e" stroke-width="0.8" />
<line x1="90.875" y1="531" x2="90.875" y2="532.5" stroke="#6e6e6e" stroke-width="0.8" />
<text transform="translate(16.7 598.8) rotate(-90)" font-size="9.6" text-anchor="middle" fill="#111" font-family='"Liberation Sans", sans-serif' textLength="46.4" lengthAdjust="spacingAndGlyphs">Voltage [V]</text>
<text x="21.3" y="701.3" font-size="10.1" fill="#111" font-family='"Liberation Sans", sans-serif' textLength="106" lengthAdjust="spacingAndGlyphs">Specific capacity [mAhg<tspan dy="-3.84" font-size="7.07">-1</tspan><tspan dy="3.84">]</tspan></text>
<clipPath id="ccl"><rect x="42.5" y="531" width="64.5" height="143.79999999999995"/></clipPath>
<g clip-path="url(#ccl)">
<path d="M43.50,677.00 C43.50,670.83 43.45,648.67 43.50,640.00 C43.55,631.33 43.58,628.50 43.80,625.00 C44.02,621.50 44.20,620.78 44.80,619.00 C45.40,617.22 45.68,615.68 47.40,614.30 C49.12,612.92 50.00,611.87 55.10,610.70 C60.20,609.53 69.27,608.37 78.00,607.30 C86.73,606.23 102.58,604.80 107.50,604.30" fill="none" stroke="#c8c8c8" stroke-width="3" stroke-linejoin="round" />
<path d="M43.20,638.00 C43.20,636.33 43.25,631.83 43.20,628.00 C43.15,624.17 42.95,617.17 42.90,615.00" fill="none" stroke="#00f0f0" stroke-width="1.8" stroke-linejoin="round" />
<path d="M42.90,615.00 C42.95,612.50 43.07,604.05 43.20,600.00 C43.33,595.95 43.42,594.15 43.70,590.70 C43.98,587.25 44.33,582.35 44.90,579.30 C45.47,576.25 46.15,574.12 47.10,572.40 C48.05,570.68 48.68,570.23 50.60,569.00 C52.52,567.77 54.03,566.33 58.60,565.00 C63.17,563.67 69.85,562.67 78.00,561.00 C86.15,559.33 102.58,556.00 107.50,555.00" fill="none" stroke="#00f0f0" stroke-width="3" stroke-linejoin="round" />
<path d="M45.00,606.00 C45.05,605.00 45.15,601.58 45.30,600.00 C45.45,598.42 45.50,597.85 45.90,596.50 C46.30,595.15 46.73,593.05 47.70,591.90 C48.67,590.75 49.50,590.37 51.70,589.60 C53.90,588.83 56.52,588.07 60.90,587.30 C65.28,586.53 70.23,586.05 78.00,585.00 C85.77,583.95 102.58,581.67 107.50,581.00" fill="none" stroke="#ff0000" stroke-width="3" stroke-linejoin="round" />
<path d="M44.60,632.00 C44.60,629.83 44.57,623.17 44.60,619.00 C44.63,614.83 44.77,609.00 44.80,607.00" fill="none" stroke="#000" stroke-width="1.8" stroke-linejoin="round" />
<path d="M44.80,610.00 C44.82,609.17 44.82,608.00 44.90,605.00 C44.98,602.00 45.15,595.17 45.30,592.00 C45.45,588.83 45.48,587.75 45.80,586.00 C46.12,584.25 46.60,582.75 47.20,581.50 C47.80,580.25 48.08,579.63 49.40,578.50 C50.72,577.37 52.23,576.18 55.10,574.70 C57.97,573.22 62.78,571.12 66.60,569.60 C70.42,568.08 71.18,567.57 78.00,565.60 C84.82,563.63 102.58,559.10 107.50,557.80" fill="none" stroke="#000" stroke-width="3" stroke-linejoin="round" />
</g>
<rect x="42.5" y="531" width="64.5" height="143.79999999999995" fill="none" stroke="#6e6e6e" stroke-width="1" />
<line x1="165" y1="675.5" x2="167.5" y2="675.5" stroke="#6e6e6e" stroke-width="0.8" />
<line x1="341.5" y1="675.5" x2="339.0" y2="675.5" stroke="#6e6e6e" stroke-width="0.8" />
<text x="162" y="678.5" font-size="9.5" text-anchor="end" fill="#111" font-family='"Liberation Sans", sans-serif' >3.0</text>
<line x1="165" y1="653.6999999999999" x2="167.5" y2="653.6999999999999" stroke="#6e6e6e" stroke-width="0.8" />
<line x1="341.5" y1="653.6999999999999" x2="339.0" y2="653.6999999999999" stroke="#6e6e6e" stroke-width="0.8" />
<text x="162" y="656.6999999999999" font-size="9.5" text-anchor="end" fill="#111" font-family='"Liberation Sans", sans-serif' >3.2</text>
<line x1="165" y1="631.9" x2="167.5" y2="631.9" stroke="#6e6e6e" stroke-width="0.8" />
<line x1="341.5" y1="631.9" x2="339.0" y2="631.9" stroke="#6e6e6e" stroke-width="0.8" />
<text x="162" y="634.9" font-size="9.5" text-anchor="end" fill="#111" font-family='"Liberation Sans", sans-serif' >3.4</text>
<line x1="165" y1="610.1" x2="167.5" y2="610.1" stroke="#6e6e6e" stroke-width="0.8" />
<line x1="341.5" y1="610.1" x2="339.0" y2="610.1" stroke="#6e6e6e" stroke-width="0.8" />
<text x="162" y="613.1" font-size="9.5" text-anchor="end" fill="#111" font-family='"Liberation Sans", sans-serif' >3.6</text>
<line x1="165" y1="588.3" x2="167.5" y2="588.3" stroke="#6e6e6e" stroke-width="0.8" />
<line x1="341.5" y1="588.3" x2="339.0" y2="588.3" stroke="#6e6e6e" stroke-width="0.8" />
<text x="162" y="591.3" font-size="9.5" text-anchor="end" fill="#111" font-family='"Liberation Sans", sans-serif' >3.8</text>
<line x1="165" y1="566.5" x2="167.5" y2="566.5" stroke="#6e6e6e" stroke-width="0.8" />
<line x1="341.5" y1="566.5" x2="339.0" y2="566.5" stroke="#6e6e6e" stroke-width="0.8" />
<text x="162" y="569.5" font-size="9.5" text-anchor="end" fill="#111" font-family='"Liberation Sans", sans-serif' >4.0</text>
<line x1="165" y1="544.6999999999999" x2="167.5" y2="544.6999999999999" stroke="#6e6e6e" stroke-width="0.8" />
<line x1="341.5" y1="544.6999999999999" x2="339.0" y2="544.6999999999999" stroke="#6e6e6e" stroke-width="0.8" />
<text x="162" y="547.6999999999999" font-size="9.5" text-anchor="end" fill="#111" font-family='"Liberation Sans", sans-serif' >4.2</text>
<line x1="165" y1="664.6" x2="166.5" y2="664.6" stroke="#6e6e6e" stroke-width="0.8" />
<line x1="341.5" y1="664.6" x2="340.0" y2="664.6" stroke="#6e6e6e" stroke-width="0.8" />
<line x1="165" y1="642.8" x2="166.5" y2="642.8" stroke="#6e6e6e" stroke-width="0.8" />
<line x1="341.5" y1="642.8" x2="340.0" y2="642.8" stroke="#6e6e6e" stroke-width="0.8" />
<line x1="165" y1="621.0" x2="166.5" y2="621.0" stroke="#6e6e6e" stroke-width="0.8" />
<line x1="341.5" y1="621.0" x2="340.0" y2="621.0" stroke="#6e6e6e" stroke-width="0.8" />
<line x1="165" y1="599.1999999999999" x2="166.5" y2="599.1999999999999" stroke="#6e6e6e" stroke-width="0.8" />
<line x1="341.5" y1="599.1999999999999" x2="340.0" y2="599.1999999999999" stroke="#6e6e6e" stroke-width="0.8" />
<line x1="165" y1="577.4" x2="166.5" y2="577.4" stroke="#6e6e6e" stroke-width="0.8" />
<line x1="341.5" y1="577.4" x2="340.0" y2="577.4" stroke="#6e6e6e" stroke-width="0.8" />
<line x1="165" y1="555.6" x2="166.5" y2="555.6" stroke="#6e6e6e" stroke-width="0.8" />
<line x1="341.5" y1="555.6" x2="340.0" y2="555.6" stroke="#6e6e6e" stroke-width="0.8" />
<line x1="165.0" y1="675.5" x2="165.0" y2="673.0" stroke="#6e6e6e" stroke-width="0.8" />
<line x1="165.0" y1="533.8" x2="165.0" y2="536.3" stroke="#6e6e6e" stroke-width="0.8" />
<text x="165.0" y="686.5" font-size="9.5" text-anchor="middle" fill="#111" font-family='"Liberation Sans", sans-serif' >0</text>
<line x1="209.125" y1="675.5" x2="209.125" y2="673.0" stroke="#6e6e6e" stroke-width="0.8" />
<line x1="209.125" y1="533.8" x2="209.125" y2="536.3" stroke="#6e6e6e" stroke-width="0.8" />
<text x="209.125" y="686.5" font-size="9.5" text-anchor="middle" fill="#111" font-family='"Liberation Sans", sans-serif' >50</text>
<line x1="253.25" y1="675.5" x2="253.25" y2="673.0" stroke="#6e6e6e" stroke-width="0.8" />
<line x1="253.25" y1="533.8" x2="253.25" y2="536.3" stroke="#6e6e6e" stroke-width="0.8" />
<text x="253.25" y="686.5" font-size="9.5" text-anchor="middle" fill="#111" font-family='"Liberation Sans", sans-serif' >100</text>
<line x1="297.375" y1="675.5" x2="297.375" y2="673.0" stroke="#6e6e6e" stroke-width="0.8" />
<line x1="297.375" y1="533.8" x2="297.375" y2="536.3" stroke="#6e6e6e" stroke-width="0.8" />
<text x="297.375" y="686.5" font-size="9.5" text-anchor="middle" fill="#111" font-family='"Liberation Sans", sans-serif' >150</text>
<line x1="341.5" y1="675.5" x2="341.5" y2="673.0" stroke="#6e6e6e" stroke-width="0.8" />
<line x1="341.5" y1="533.8" x2="341.5" y2="536.3" stroke="#6e6e6e" stroke-width="0.8" />
<text x="341.5" y="686.5" font-size="9.5" text-anchor="middle" fill="#111" font-family='"Liberation Sans", sans-serif' >200</text>
<line x1="187.0625" y1="675.5" x2="187.0625" y2="674.0" stroke="#6e6e6e" stroke-width="0.8" />
<line x1="187.0625" y1="533.8" x2="187.0625" y2="535.3" stroke="#6e6e6e" stroke-width="0.8" />
<line x1="231.1875" y1="675.5" x2="231.1875" y2="674.0" stroke="#6e6e6e" stroke-width="0.8" />
<line x1="231.1875" y1="533.8" x2="231.1875" y2="535.3" stroke="#6e6e6e" stroke-width="0.8" />
<line x1="275.3125" y1="675.5" x2="275.3125" y2="674.0" stroke="#6e6e6e" stroke-width="0.8" />
<line x1="275.3125" y1="533.8" x2="275.3125" y2="535.3" stroke="#6e6e6e" stroke-width="0.8" />
<line x1="319.4375" y1="675.5" x2="319.4375" y2="674.0" stroke="#6e6e6e" stroke-width="0.8" />
<line x1="319.4375" y1="533.8" x2="319.4375" y2="535.3" stroke="#6e6e6e" stroke-width="0.8" />
<text transform="translate(140.4 600.85) rotate(-90)" font-size="9.6" text-anchor="middle" fill="#111" font-family='"Liberation Sans", sans-serif' textLength="45.9" lengthAdjust="spacingAndGlyphs">Voltage [V]</text>
<text x="200.2" y="702.2" font-size="10.1" fill="#111" font-family='"Liberation Sans", sans-serif' textLength="106.3" lengthAdjust="spacingAndGlyphs">Specific capacity [mAhg<tspan dy="-3.84" font-size="7.07">-1</tspan><tspan dy="3.84">]</tspan></text>
<clipPath id="cc"><rect x="165" y="533.8" width="176.5" height="141.70000000000005"/></clipPath>
<g clip-path="url(#cc)">
<path d="M165.20,587.00 C165.27,586.42 165.30,584.50 165.60,583.50 C165.90,582.50 166.35,581.67 167.00,581.00 C167.65,580.33 167.45,580.42 169.50,579.50 C171.55,578.58 175.17,577.17 179.30,575.50 C183.43,573.83 190.02,571.00 194.30,569.50 C198.58,568.00 199.28,568.57 205.00,566.50 C210.72,564.43 221.25,560.37 228.60,557.10 C235.95,553.83 244.20,549.58 249.10,546.90 C254.00,544.22 255.42,542.90 258.00,541.00 C260.58,539.10 263.02,536.57 264.60,535.50 C266.18,534.43 267.02,534.75 267.50,534.60" fill="none" stroke="#c8c8c8" stroke-width="2.8" stroke-linejoin="round" />
<path d="M166.20,569.00 C166.27,568.58 166.47,567.10 166.60,566.50 C166.73,565.90 166.60,566.15 167.00,565.40 C167.40,564.65 168.15,562.85 169.00,562.00 C169.85,561.15 169.28,561.53 172.10,560.30 C174.92,559.07 180.75,556.32 185.90,554.60 C191.05,552.88 197.60,551.58 203.00,550.00 C208.40,548.42 212.90,547.05 218.30,545.10 C223.70,543.15 231.62,539.90 235.40,538.30 C239.18,536.70 239.48,536.12 241.00,535.50 C242.52,534.88 243.92,534.75 244.50,534.60" fill="none" stroke="#ff0000" stroke-width="2.6" stroke-linejoin="round" />
<path d="M165.90,574.00 C165.97,572.67 166.02,568.57 166.30,566.00 C166.58,563.43 167.00,561.02 167.60,558.60 C168.20,556.18 168.77,553.50 169.90,551.50 C171.03,549.50 172.70,548.18 174.40,546.60 C176.10,545.02 178.18,543.53 180.10,542.00 C182.02,540.47 184.18,538.55 185.90,537.40 C187.62,536.25 189.28,535.57 190.40,535.10 C191.52,534.63 192.23,534.68 192.60,534.60" fill="none" stroke="#000" stroke-width="2.8" stroke-linejoin="round" />
<path d="M165.20,583.00 C165.25,580.83 165.38,574.17 165.50,570.00 C165.62,565.83 165.68,560.92 165.90,558.00 C166.12,555.08 166.33,554.02 166.80,552.50 C167.27,550.98 167.43,550.17 168.70,548.90 C169.97,547.63 171.53,546.53 174.40,544.90 C177.27,543.27 182.47,540.63 185.90,539.10 C189.33,537.57 192.55,536.45 195.00,535.70 C197.45,534.95 199.67,534.78 200.60,534.60" fill="none" stroke="#00f0f0" stroke-width="2.8" stroke-linejoin="round" />
<path d="M192.60,532.00 C192.60,542.17 192.73,581.67 192.60,593.00 C192.47,604.33 192.40,597.92 191.80,600.00 C191.20,602.08 190.13,603.67 189.00,605.50 C187.87,607.33 186.67,608.25 185.00,611.00 C183.33,613.75 180.83,618.50 179.00,622.00 C177.17,625.50 175.50,628.17 174.00,632.00 C172.50,635.83 171.08,640.67 170.00,645.00 C168.92,649.33 168.20,652.67 167.50,658.00 C166.80,663.33 166.08,673.83 165.80,677.00" fill="none" stroke="#000" stroke-width="2.8" stroke-linejoin="round" />
<path d="M200.60,532.00 C200.60,542.67 200.68,584.42 200.60,596.00 C200.52,607.58 200.70,600.00 200.10,601.50 C199.50,603.00 198.23,603.82 197.00,605.00 C195.77,606.18 194.53,606.93 192.70,608.60 C190.87,610.27 188.12,611.92 186.00,615.00 C183.88,618.08 182.07,622.70 180.00,627.10 C177.93,631.50 175.15,636.87 173.60,641.40 C172.05,645.93 171.53,650.25 170.70,654.30 C169.87,658.35 169.30,661.92 168.60,665.70 C167.90,669.48 166.85,675.12 166.50,677.00" fill="none" stroke="#00f0f0" stroke-width="2.8" stroke-linejoin="round" />
<path d="M244.30,532.00 C244.30,539.67 244.37,569.15 244.30,578.00 C244.23,586.85 244.62,583.43 243.90,585.10 C243.18,586.77 241.28,587.15 240.00,588.00 C238.72,588.85 238.70,589.03 236.20,590.20 C233.70,591.37 229.00,593.23 225.00,595.00 C221.00,596.77 216.37,599.05 212.20,600.80 C208.03,602.55 203.70,603.80 200.00,605.50 C196.30,607.20 193.00,608.75 190.00,611.00 C187.00,613.25 184.27,616.55 182.00,619.00 C179.73,621.45 178.17,622.68 176.40,625.70 C174.63,628.72 172.70,633.05 171.40,637.10 C170.10,641.15 169.43,645.70 168.60,650.00 C167.77,654.30 167.00,658.40 166.40,662.90 C165.80,667.40 165.23,674.65 165.00,677.00" fill="none" stroke="#ff0000" stroke-width="2.4" stroke-linejoin="round" />
<path d="M267.10,532.00 C267.10,536.67 267.17,554.27 267.10,560.00 C267.03,565.73 267.55,564.40 266.70,566.40 C265.85,568.40 263.95,569.83 262.00,572.00 C260.05,574.17 257.83,577.07 255.00,579.40 C252.17,581.73 248.42,584.00 245.00,586.00 C241.58,588.00 239.97,589.10 234.50,591.40 C229.03,593.70 217.95,597.62 212.20,599.80 C206.45,601.98 202.87,603.30 200.00,604.50 C197.13,605.70 196.90,606.00 195.00,607.00 C193.10,608.00 190.87,608.57 188.60,610.50 C186.33,612.43 183.42,615.68 181.40,618.60 C179.38,621.52 177.92,624.67 176.50,628.00 C175.08,631.33 173.98,634.70 172.90,638.60 C171.82,642.50 170.83,647.12 170.00,651.40 C169.17,655.68 168.50,660.03 167.90,664.30 C167.30,668.57 166.65,674.88 166.40,677.00" fill="none" stroke="#c8c8c8" stroke-width="2.8" stroke-linejoin="round" />
</g>
<rect x="165" y="533.8" width="176.5" height="141.70000000000005" fill="none" stroke="#6e6e6e" stroke-width="1" />
<polygon points="189.00,601.90 190.12,604.36 192.80,604.66 190.81,606.49 191.35,609.14 189.00,607.80 186.65,609.14 187.19,606.49 185.20,604.66 187.88,604.36" fill="#f0b000" stroke="#c08a10" stroke-width="0.7" stroke-linejoin="round"/>
<polygon points="200.10,598.40 201.22,600.86 203.90,601.16 201.91,602.99 202.45,605.64 200.10,604.30 197.75,605.64 198.29,602.99 196.30,601.16 198.98,600.86" fill="#f0b000" stroke="#c08a10" stroke-width="0.7" stroke-linejoin="round"/>
<polygon points="243.80,581.10 244.92,583.56 247.60,583.86 245.61,585.69 246.15,588.34 243.80,587.00 241.45,588.34 241.99,585.69 240.00,583.86 242.68,583.56" fill="#f0b000" stroke="#c08a10" stroke-width="0.7" stroke-linejoin="round"/>
<polygon points="266.60,562.00 267.72,564.46 270.40,564.76 268.41,566.59 268.95,569.24 266.60,567.90 264.25,569.24 264.79,566.59 262.80,564.76 265.48,564.46" fill="#f0b000" stroke="#c08a10" stroke-width="0.7" stroke-linejoin="round"/>
<rect x="163.3" y="533.6" width="8.6" height="91.3" fill="none" stroke="#8a8a8a" stroke-width="1.8" />
<rect x="164.4" y="672.8" width="21.7" height="5.0" fill="#f4f4f4" stroke="#8a8a8a" stroke-width="1.8" />
<line x1="275.4" y1="534.8" x2="275.4" y2="569.2" stroke="#777" stroke-width="0.8" />
<line x1="272.9" y1="534.8" x2="275.4" y2="534.8" stroke="#777" stroke-width="0.8" />
<line x1="272.9" y1="569.2" x2="275.4" y2="569.2" stroke="#777" stroke-width="0.8" />
<line x1="275.4" y1="551.5" x2="279.3" y2="551.5" stroke="#777" stroke-width="0.8" />
<text x="283.8" y="557.1" font-size="13.3" text-anchor="start" fill="#111" font-family='"Liberation Sans", sans-serif' >IR-drop</text>
<rect x="257.5" y="635.1" width="83.30000000000001" height="37.19999999999993" fill="#fff" stroke="#6e6e6e" stroke-width="0.8" />
<line x1="259.5" y1="641.1" x2="277.7" y2="641.1" stroke="#000" stroke-width="3.4" />
<text x="278.8" y="643.9" font-size="7.9" text-anchor="start" fill="#111" font-family='"Liberation Sans", sans-serif' textLength="25.3" lengthAdjust="spacingAndGlyphs" >NMCref</text>
<line x1="259.5" y1="650.5" x2="277.7" y2="650.5" stroke="#ff0000" stroke-width="3.4" />
<text x="278.8" y="653.3" font-size="7.9" text-anchor="start" fill="#111" font-family='"Liberation Sans", sans-serif' textLength="38.11" lengthAdjust="spacingAndGlyphs" >5 wt% TA Li</text>
<line x1="259.5" y1="659.3" x2="277.7" y2="659.3" stroke="#00f0f0" stroke-width="3.4" />
<text x="278.8" y="662.0999999999999" font-size="7.9" text-anchor="start" fill="#111" font-family='"Liberation Sans", sans-serif' textLength="38.79" lengthAdjust="spacingAndGlyphs" >5 wt% SIPE</text>
<line x1="259.5" y1="668.4" x2="277.7" y2="668.4" stroke="#c8c8c8" stroke-width="3.4" />
<text x="278.8" y="671.1999999999999" font-size="7.9" text-anchor="start" fill="#111" font-family='"Liberation Sans", sans-serif' textLength="60.22" lengthAdjust="spacingAndGlyphs" >SIPE SC (+5 wt%)</text>
<line x1="164" y1="773.3" x2="166" y2="773.3" stroke="#6e6e6e" stroke-width="0.8" />
<line x1="340.4" y1="773.3" x2="338.4" y2="773.3" stroke="#6e6e6e" stroke-width="0.8" />
<text x="160.5" y="775.9" font-size="8" text-anchor="end" fill="#111" font-family='"Liberation Sans", sans-serif' >3.0</text>
<line x1="164" y1="751.8499999999999" x2="166" y2="751.8499999999999" stroke="#6e6e6e" stroke-width="0.8" />
<line x1="340.4" y1="751.8499999999999" x2="338.4" y2="751.8499999999999" stroke="#6e6e6e" stroke-width="0.8" />
<text x="160.5" y="754.4499999999999" font-size="8" text-anchor="end" fill="#111" font-family='"Liberation Sans", sans-serif' >3.2</text>
<line x1="164" y1="730.4" x2="166" y2="730.4" stroke="#6e6e6e" stroke-width="0.8" />
<line x1="340.4" y1="730.4" x2="338.4" y2="730.4" stroke="#6e6e6e" stroke-width="0.8" />
<text x="160.5" y="733.0" font-size="8" text-anchor="end" fill="#111" font-family='"Liberation Sans", sans-serif' >3.4</text>
<line x1="164.0" y1="773.3" x2="164.0" y2="771.3" stroke="#6e6e6e" stroke-width="0.8" />
<line x1="164.0" y1="730.4" x2="164.0" y2="732.4" stroke="#6e6e6e" stroke-width="0.8" />
<text x="164.0" y="782" font-size="8" text-anchor="middle" fill="#111" font-family='"Liberation Sans", sans-serif' >0</text>
<line x1="281.59999999999997" y1="773.3" x2="281.59999999999997" y2="771.3" stroke="#6e6e6e" stroke-width="0.8" />
<line x1="281.59999999999997" y1="730.4" x2="281.59999999999997" y2="732.4" stroke="#6e6e6e" stroke-width="0.8" />
<text x="281.59999999999997" y="782" font-size="8" text-anchor="middle" fill="#111" font-family='"Liberation Sans", sans-serif' >10</text>
<line x1="222.79999999999998" y1="773.3" x2="222.79999999999998" y2="772.0" stroke="#6e6e6e" stroke-width="0.8" />
<line x1="340.4" y1="773.3" x2="340.4" y2="772.0" stroke="#6e6e6e" stroke-width="0.8" />
<text transform="translate(142.5 748.35) rotate(-90)" font-size="8.6" text-anchor="middle" fill="#111" font-family='"Liberation Sans", sans-serif' textLength="39.9" lengthAdjust="spacingAndGlyphs">Voltage [V]</text>
<text x="205.4" y="795" font-size="8.5" fill="#111" font-family='"Liberation Sans", sans-serif' textLength="94.9" lengthAdjust="spacingAndGlyphs">Specific capacity [mAhg<tspan dy="-3.23" font-size="5.95">-1</tspan><tspan dy="3.23">]</tspan></text>
<clipPath id="cd"><rect x="164" y="730.4" width="176.39999999999998" height="42.89999999999998"/></clipPath>
<g clip-path="url(#cd)">
<path d="M164.40,758.40 L164.40,764.00" fill="none" stroke="#000" stroke-width="1.8" stroke-linejoin="round" />
<path d="M169.50,773.50 C169.82,773.03 167.15,773.52 171.40,770.70 C175.65,767.88 183.57,761.22 195.00,756.60 C206.43,751.98 227.50,746.55 240.00,743.00 C252.50,739.45 260.00,737.37 270.00,735.30 C280.00,733.23 288.33,731.82 300.00,730.60 C311.67,729.38 333.33,728.43 340.00,728.00" fill="none" stroke="#ff0000" stroke-width="2.4" stroke-linejoin="round" />
<path d="M170.50,774.80 C170.75,774.60 167.92,776.20 172.00,773.60 C176.08,771.00 183.67,764.58 195.00,759.20 C206.33,753.82 227.50,745.72 240.00,741.30 C252.50,736.88 262.50,734.48 270.00,732.70 C277.50,730.92 276.67,731.38 285.00,730.60 C293.33,729.82 314.17,728.43 320.00,728.00" fill="none" stroke="#c8c8c8" stroke-width="3.2" stroke-linejoin="round" />
<path d="M174.00,774.50 C174.28,774.35 172.20,774.58 175.70,773.60 C179.20,772.62 184.28,772.42 195.00,768.60 C205.72,764.78 227.50,755.40 240.00,750.70 C252.50,746.00 260.00,743.53 270.00,740.40 C280.00,737.27 294.00,733.53 300.00,731.90 C306.00,730.27 299.33,731.25 306.00,730.60 C312.67,729.95 334.33,728.43 340.00,728.00" fill="none" stroke="#000" stroke-width="3.2" stroke-linejoin="round" />
<path d="M164.00,773.20 C169.17,772.00 182.33,769.32 195.00,766.00 C207.67,762.68 227.50,756.85 240.00,753.30 C252.50,749.75 260.00,747.42 270.00,744.70 C280.00,741.98 288.27,739.35 300.00,737.00 C311.73,734.65 333.67,731.67 340.40,730.60" fill="none" stroke="#00f0f0" stroke-width="3.2" stroke-linejoin="round" />
</g>
<rect x="164" y="730.4" width="176.39999999999998" height="42.89999999999998" fill="none" stroke="#6e6e6e" stroke-width="1" />
</svg></body></html>
